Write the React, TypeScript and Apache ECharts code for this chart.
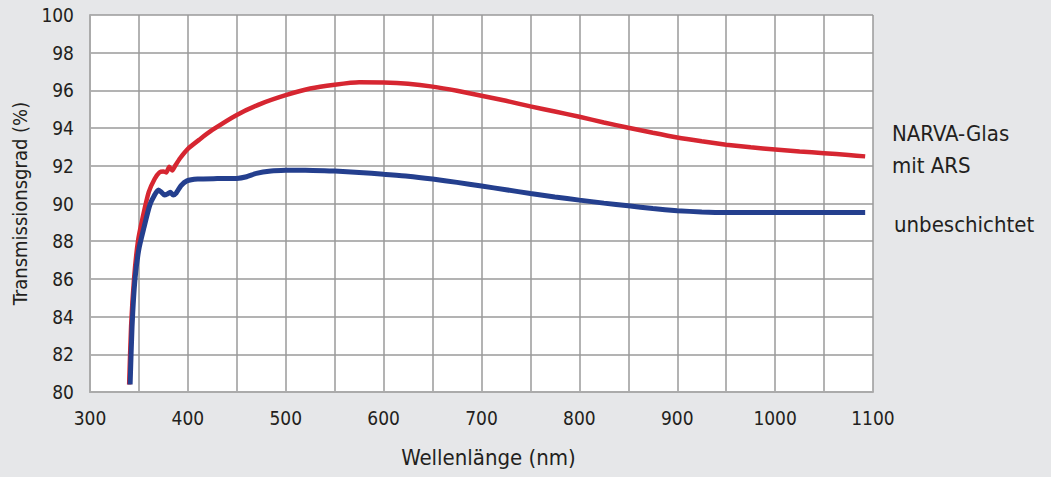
import React, { useEffect, useRef } from "react";
import * as echarts from "echarts";

const FONT = "'Liberation Sans Narrow', 'DejaVu Sans Condensed', 'Roboto', sans-serif";

// wavelength (nm), transmission (%)
const redWavelengths = [340, 342, 345, 349, 354, 360, 366, 371, 375, 378, 381, 384, 387, 392, 400, 412, 425, 450, 475, 500, 525, 550, 575, 600, 625, 650, 675, 700, 725, 750, 775, 800, 825, 850, 875, 900, 925, 950, 975, 1000, 1025, 1050, 1075, 1092];
const redValues = [80.4, 83.5, 86.0, 88.0, 89.3, 90.6, 91.3, 91.65, 91.7, 91.65, 91.95, 91.75, 92.0, 92.4, 92.9, 93.4, 93.9, 94.7, 95.3, 95.75, 96.1, 96.3, 96.43, 96.42, 96.35, 96.2, 95.98, 95.72, 95.45, 95.15, 94.88, 94.6, 94.3, 94.02, 93.75, 93.5, 93.3, 93.12, 92.98, 92.87, 92.76, 92.67, 92.57, 92.5];

const blueWavelengths = [341, 343, 346, 350, 355, 361, 366, 370, 373, 376, 379, 382, 385, 388, 393, 399, 410, 430, 450, 460, 470, 485, 500, 520, 550, 575, 600, 625, 650, 675, 700, 725, 750, 775, 800, 825, 850, 875, 900, 925, 950, 1000, 1050, 1092];
const blueValues = [80.4, 83.5, 86.0, 87.6, 88.7, 89.9, 90.45, 90.72, 90.6, 90.45, 90.5, 90.6, 90.45, 90.55, 90.95, 91.2, 91.3, 91.32, 91.33, 91.42, 91.6, 91.72, 91.76, 91.77, 91.72, 91.65, 91.55, 91.45, 91.3, 91.12, 90.93, 90.73, 90.53, 90.35, 90.18, 90.02, 89.88, 89.73, 89.62, 89.55, 89.52, 89.52, 89.52, 89.52];

const legendLines = ["NARVA-Glas", "mit ARS", "unbeschichtet"];
const xTitle = "Wellenlänge (nm)";
const yTitle = "Transmissionsgrad (%)";

export default function App() {
  const ref = useRef<HTMLDivElement>(null);
  useEffect(() => {
    if (!ref.current) return;
    const chart = echarts.init(ref.current, undefined, { renderer: "svg" });
    const red = redWavelengths.map((w, i) => [w, redValues[i]]);
    const blue = blueWavelengths.map((w, i) => [w, blueValues[i]]);
    const gridColor = "#9a9a9a";
    const txt = "#231f20";
    chart.setOption({
      animation: false,
      backgroundColor: "#e6e7e9",
      textStyle: { fontFamily: FONT, color: txt },
      grid: {
        left: 90, top: 15, right: 178, bottom: 85,
        backgroundColor: "#ffffff", show: true, borderWidth: 0,
        containLabel: false, outerBoundsMode: "none",
      },
      xAxis: {
        type: "value",
        min: 300,
        max: 1100,
        interval: 50,
        name: xTitle,
        nameLocation: "middle",
        nameGap: 54,
        nameTextStyle: { fontSize: 22, color: txt, fontFamily: FONT, padding: [0, 0, 0, 14] },
        axisLine: { show: true, lineStyle: { color: "#ababab", width: 2 } },
        axisTick: { show: false },
        axisLabel: {
          fontSize: 19,
          color: txt,
          margin: 16,
          fontFamily: FONT,
          formatter: (v: number) => (v % 100 === 0 ? String(v) : ""),
        },
        splitLine: { show: true, lineStyle: { color: gridColor, width: 1.5 } },
      },
      yAxis: {
        type: "value",
        min: 80,
        max: 100,
        interval: 2,
        name: yTitle,
        nameLocation: "middle",
        nameGap: 51,
        nameTextStyle: { fontSize: 20, color: txt, fontFamily: FONT },
        axisLine: { show: true, lineStyle: { color: "#ababab", width: 2 } },
        axisTick: { show: false },
        axisLabel: { fontSize: 19, color: txt, margin: 16, fontFamily: FONT },
        splitLine: { show: true, lineStyle: { color: gridColor, width: 1.5 } },
      },
      series: [
        {
          type: "line",
          name: "NARVA-Glas mit ARS",
          data: red,
          showSymbol: false,
          smooth: 0.2,
          lineStyle: { color: "#d62631", width: 4.5 },
          itemStyle: { color: "#d62631" },
          z: 2,
        },
        {
          type: "line",
          name: "unbeschichtet",
          data: blue,
          showSymbol: false,
          smooth: 0.2,
          lineStyle: { color: "#243f8e", width: 5 },
          itemStyle: { color: "#243f8e" },
          z: 3,
        },
      ],
      graphic: [
        { type: "text", left: 892, top: 122, style: { text: legendLines[0], fontSize: 22, fill: txt, fontFamily: FONT } },
        { type: "text", left: 892, top: 154, style: { text: legendLines[1], fontSize: 22, fill: txt, fontFamily: FONT } },
        { type: "text", left: 894, top: 213, style: { text: legendLines[2], fontSize: 22, fill: txt, fontFamily: FONT } },
      ],
    });
    return () => chart.dispose();
  }, []);
  return <div ref={ref} style={{ position: "fixed", left: 0, top: 0, width: 1051, height: 477 }} />;
}
